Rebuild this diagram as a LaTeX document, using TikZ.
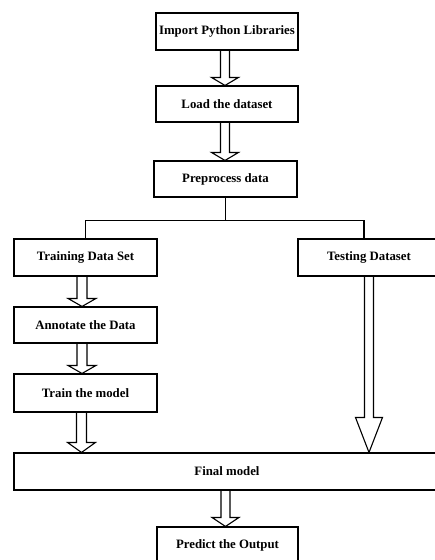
\documentclass[tikz,border=0pt]{standalone}
\usepackage{fontspec}
\setmainfont{Liberation Serif}
\usetikzlibrary{calc}
\tikzset{
  boxnode/.style={draw=black, line width=1.1pt, fill=white, inner sep=0pt,
    font=\bfseries\fontsize{12.8}{14}\selectfont, text=black},
  fat/.style={draw=black, line width=1.1pt, line join=miter},
  conn/.style={draw=black, line width=1.3pt}
}
\newcommand{\hollowarrow}[6]{%
  \draw[fat] let \p1=([xshift=#3]#1), \p2=([xshift=#3]#2) in
    (\x1-#4,\y1) -- (\x1-#4,\y2+#6) -- (\x1-#5,\y2+#6) -- (\x1,\y2)
    -- (\x1+#5,\y2+#6) -- (\x1+#4,\y2+#6) -- (\x1+#4,\y1);
}
\begin{document}
\begin{tikzpicture}[x=1pt,y=-1pt]
\useasboundingbox[fill=white] (0,0) rectangle (435,560);
\node[boxnode, minimum width=142pt, minimum height=37pt] (imp) at (227,31.5) {Import Python Libraries};
\node[boxnode, minimum width=142pt, minimum height=36pt] (load) at (227,104) {Load the dataset};
\node[boxnode, minimum width=143pt, minimum height=36pt] (pre) at (225.5,179) {Preprocess data};
\node[boxnode, minimum width=143pt, minimum height=37pt] (train1) at (85.5,257.5) {Training Data Set};
\node[boxnode, minimum width=142pt, minimum height=37pt] (test) at (369,257.5) {Testing Dataset};
\node[boxnode, minimum width=143pt, minimum height=36pt] (annot) at (85.5,325) {Annotate the Data};
\node[boxnode, minimum width=143pt, minimum height=38pt] (trainm) at (85.5,393) {Train the model};
\node[boxnode, minimum width=426pt, minimum height=37pt] (final) at (227,471.5) {Final model};
\node[boxnode, minimum width=141pt, minimum height=37pt] (pred) at (227.5,545.5) {Predict the Output};

% split connector
\coordinate (split) at ($(pre.south)+(0,-23pt)$);
\draw[conn] (pre.south) -- (split);
\draw[conn] (train1.north) |- (split);
\draw[conn] ([xshift=-5pt]test.north) |- (split);

% hollow arrows
\coordinate (testin) at (test.south |- final.north);
\hollowarrow{imp.south}{load.north}{-2pt}{4.5pt}{13.5pt}{8pt}
\hollowarrow{load.south}{pre.north}{-2pt}{4.5pt}{13.5pt}{8pt}
\hollowarrow{train1.south}{annot.north}{-3.5pt}{5pt}{14pt}{8pt}
\hollowarrow{annot.south}{trainm.north}{-3.5pt}{5pt}{14pt}{8pt}
\hollowarrow{trainm.south}{final.north}{-4pt}{5pt}{14pt}{10pt}
\hollowarrow{test.south}{testin}{0pt}{4.5pt}{13.5pt}{35pt}
\hollowarrow{final.south}{pred.north}{-1.5pt}{4.5pt}{13.5pt}{9pt}
\end{tikzpicture}
\end{document}
